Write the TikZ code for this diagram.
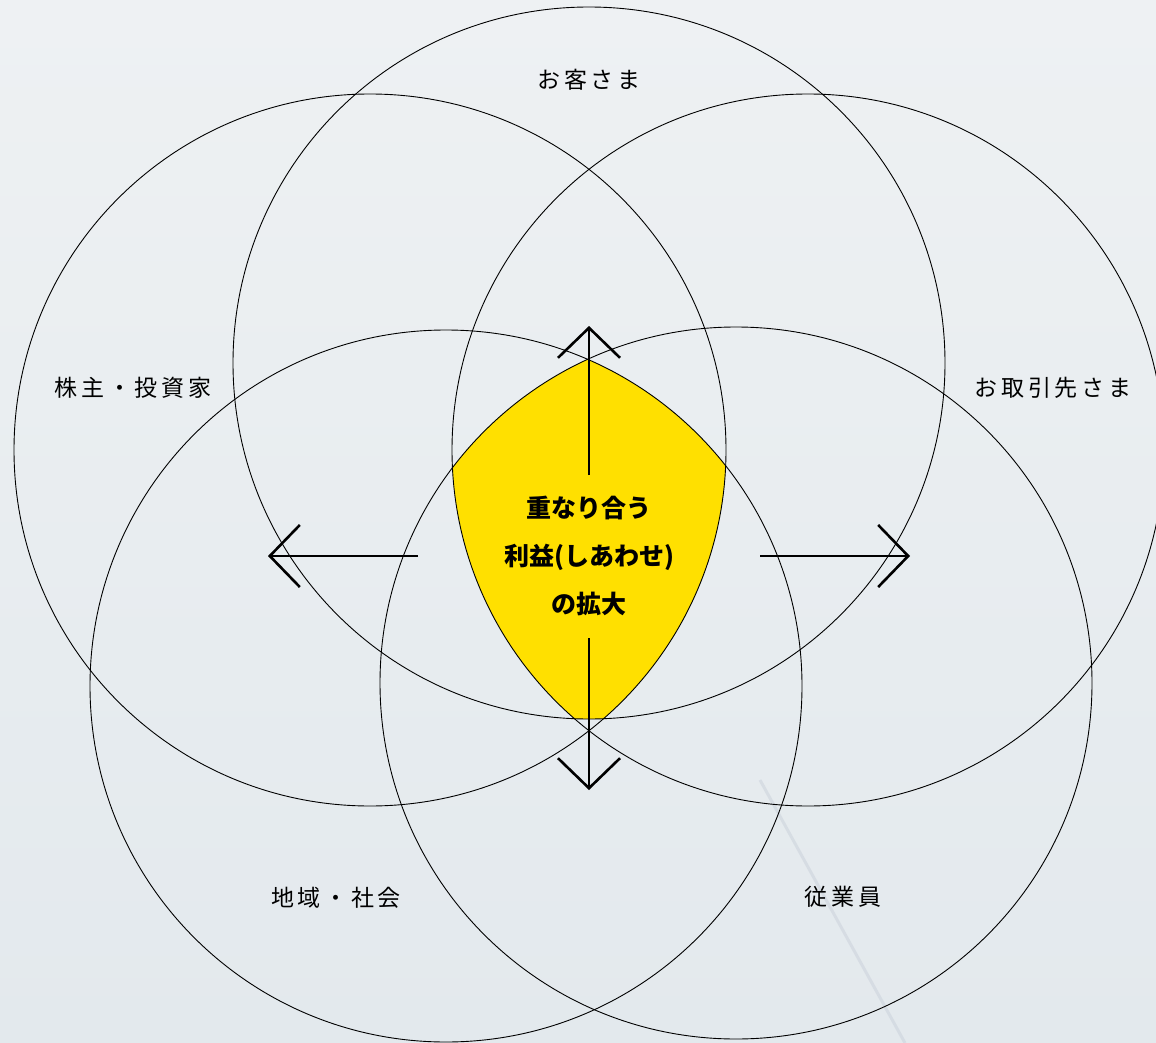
\documentclass[tikz,border=0pt]{standalone}
\usepackage{fontspec}
\newfontfamily\jp{Noto Sans CJK JP}
\newfontfamily\jpsp[LetterSpace=16]{Noto Sans CJK JP}
\usetikzlibrary{arrows.meta}
\definecolor{bgA}{HTML}{EEF1F3}
\definecolor{bgB}{HTML}{E3E9ED}
\definecolor{yel}{HTML}{FFE000}
\definecolor{streak}{HTML}{C9D0DA}
\tikzset{
  ring/.style={draw=black, line width=0.9pt},
  lbl/.style={font=\jpsp\fontsize{23}{26}\selectfont, inner sep=0pt},
  ctr/.style={font=\jp\bfseries\fontsize{25}{48}\selectfont, align=center, inner sep=0pt},
  bigarrow/.style={line width=2.4pt, -{Straight Barb[length=30pt, width=62pt, line width=2.6pt]}}
}
\begin{document}
\begin{tikzpicture}[x=1pt,y=-1pt]
\shade[top color=bgA, bottom color=bgB] (0,0) rectangle (1156,1043);
\useasboundingbox (0,0) rectangle (1156,1043);
% faint texture line
\draw[streak, opacity=0.5, line width=3pt] (760,780) -- (905,1043);
% yellow intersection of all five circles
\begin{scope}
  \clip (589,363) circle (356);
  \clip (370,450) circle (356);
  \clip (808,450) circle (356);
  \clip (446,686) circle (356);
  \fill[yel] (736,683) circle (356);
\end{scope}
% circles
\draw[ring] (589,363) circle (356);
\draw[ring] (370,450) circle (356);
\draw[ring] (808,450) circle (356);
\draw[ring] (446,686) circle (356);
\draw[ring] (736,683) circle (356);
% labels
\node[lbl] (cust) at (589,80) {お客さま};
\node[lbl] (share) at (133,388) {株主・投資家};
\node[lbl] (supp) at (1053,388) {お取引先さま};
\node[lbl] (comm) at (336,898) {地域・社会};
\node[lbl] (emp) at (843,897) {従業員};
\node[ctr] (center) at (589,556) {重なり合う\\利益(しあわせ)\\の拡大};
% arrow coordinates
\coordinate (uS) at (589,475); \coordinate (uE) at (589,326);
\coordinate (dS) at (589,638); \coordinate (dE) at (589,790);
\coordinate (lS) at (418,556); \coordinate (lE) at (268,556);
\coordinate (rS) at (760,556); \coordinate (rE) at (910,556);
\draw[bigarrow] (uS) -- (uE);
\draw[bigarrow] (dS) -- (dE);
\draw[bigarrow] (lS) -- (lE);
\draw[bigarrow] (rS) -- (rE);
\end{tikzpicture}
\end{document}
